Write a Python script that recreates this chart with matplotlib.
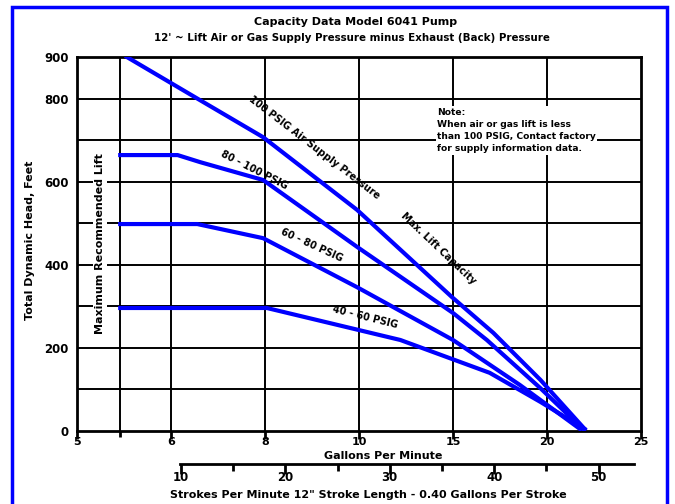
import matplotlib
matplotlib.use('Agg')
import matplotlib.pyplot as plt
from matplotlib.patches import Rectangle

# ---- data ----
x_tick_pos = [0, 1, 2, 3, 4, 5, 6]
x_tick_labels = ['5', '6', '8', '10', '15', '20', '25']
x_extra_grid = [0.46]
y_ticks = [0, 200, 400, 600, 800, 900]
stroke_ticks = [10, 20, 30, 40, 50]
stroke_minor = [15, 25, 35, 45]

c1_x = [0.53, 1.31, 1.98, 2.98, 3.99, 4.43, 4.93, 5.40]
c1_y = [900, 796, 707, 532, 322, 236, 123, 5]
c2_x = [0.46, 1.07, 1.31, 1.98, 2.98, 4.00, 4.36, 4.93, 5.38]
c2_y = [664, 664, 647, 604, 443, 284, 219, 103, 5]
c3_x = [0.46, 1.28, 1.98, 2.98, 4.00, 4.71, 5.35]
c3_y = [498, 498, 464, 346, 219, 111, 5]
c4_x = [0.46, 2.02, 3.44, 4.39, 4.93, 5.40]
c4_y = [296, 296, 219, 140, 70, 5]

curve_labels = ['100 PSIG Air Supply Pressure', 'Max. Lift Capacity',
                '80 - 100 PSIG', '60 - 80 PSIG', '40 - 60 PSIG']

plt.rcParams['font.family'] = ['DejaVu Sans']
W, H = 675, 504
fig = plt.figure(figsize=(W / 100, H / 100), dpi=100)

L, R, T, B = 77, 641, 57, 431
ax = fig.add_axes([L / W, 1 - B / H, (R - L) / W, (B - T) / H])
ax.set_xlim(0, 6)
ax.set_ylim(0, 900)

# grid
for gx in x_extra_grid + x_tick_pos[1:-1]:
    ax.axvline(gx, color='black', lw=1.4, zorder=1)
for gy in range(100, 900, 100):
    ax.axhline(gy, color='black', lw=1.4, zorder=1)
for s in ax.spines.values():
    s.set_linewidth(2)

ax.set_xticks(x_tick_pos)
ax.set_xticklabels(x_tick_labels, fontsize=8, fontweight='heavy')
ax.set_xticks(x_extra_grid, minor=True)
ax.tick_params(axis='x', which='major', length=6, width=2, pad=-2, direction='out')
ax.tick_params(axis='x', which='minor', length=4, width=2)
ax.set_yticks(y_ticks)
ax.set_yticklabels([str(v) for v in y_ticks], fontsize=8.5, fontweight='heavy')
ax.tick_params(axis='y', length=0, pad=6)

blue = '#0000ff'
for xs, ys in [(c1_x, c1_y), (c2_x, c2_y), (c3_x, c3_y), (c4_x, c4_y)]:
    ax.plot(xs, ys, color=blue, lw=3, zorder=4, solid_joinstyle='round')

lab_kw = dict(fontsize=7, fontweight='heavy', ha='center', va='center', zorder=5)
ax.text(2.52, 682, curve_labels[0], rotation=-37.6, **lab_kw)
ax.text(3.84, 440, curve_labels[1], rotation=-43.5, **lab_kw)
ax.text(1.88, 628, curve_labels[2], rotation=-27, **lab_kw)
ax.text(2.50, 446, curve_labels[3], rotation=-24.5, **lab_kw)
ax.text(3.07, 274, curve_labels[4], rotation=-14, **lab_kw)

ax.text(0.245, 450, 'Maximum Recommended Lift', rotation=90, fontsize=8,
        fontweight='heavy', ha='center', va='center', zorder=3,
        bbox=dict(facecolor='white', edgecolor='none', pad=1.5))

ax.text(3.83, 778, 'Note:\nWhen air or gas lift is less\nthan 100 PSIG, Contact factory\nfor supply information data.',
        fontsize=6.6, fontweight='heavy', ha='left', va='top', linespacing=1.45, zorder=3,
        bbox=dict(facecolor='white', edgecolor='none', pad=1))

# secondary stroke axis
ax2 = fig.add_axes([180 / W, 1 - 464 / H, 454 / W, 0.0001])
ax2.set_xlim(9.9, 53.4)
ax2.patch.set_visible(False)
for k in ['top', 'left', 'right']:
    ax2.spines[k].set_visible(False)
ax2.spines['bottom'].set_linewidth(2)
ax2.set_yticks([])
ax2.set_xticks(stroke_ticks)
ax2.set_xticklabels([str(v) for v in stroke_ticks], fontsize=8.5, fontweight='heavy')
ax2.set_xticks(stroke_minor, minor=True)
ax2.tick_params(axis='x', which='major', length=7, width=2, pad=-2)
ax2.tick_params(axis='x', which='minor', length=5, width=2)

fig.text(356 / W, 1 - 22 / H, 'Capacity Data Model 6041 Pump', fontsize=8,
         fontweight='heavy', ha='center', va='center')
fig.text(352 / W, 1 - 38 / H, "12' ~ Lift Air or Gas Supply Pressure minus Exhaust (Back) Pressure",
         fontsize=7.4, fontweight='heavy', ha='center', va='center')
fig.text(30 / W, 1 - 240 / H, 'Total Dynamic Head, Feet', rotation=90, fontsize=8,
         fontweight='heavy', ha='center', va='center')
fig.text(383 / W, 1 - 456 / H, 'Gallons Per Minute', fontsize=8,
         fontweight='heavy', ha='center', va='center')
fig.text(368 / W, 1 - 495 / H, 'Strokes Per Minute 12" Stroke Length - 0.40 Gallons Per Stroke',
         fontsize=8, fontweight='heavy', ha='center', va='center')

# blue frame
fig.patches.append(Rectangle((12 / W, -0.1), (667 - 12) / W, 1.1 - 7 / H,
                             transform=fig.transFigure, fill=False,
                             edgecolor=blue, lw=2.5))

fig.savefig('out.png', dpi=100)
